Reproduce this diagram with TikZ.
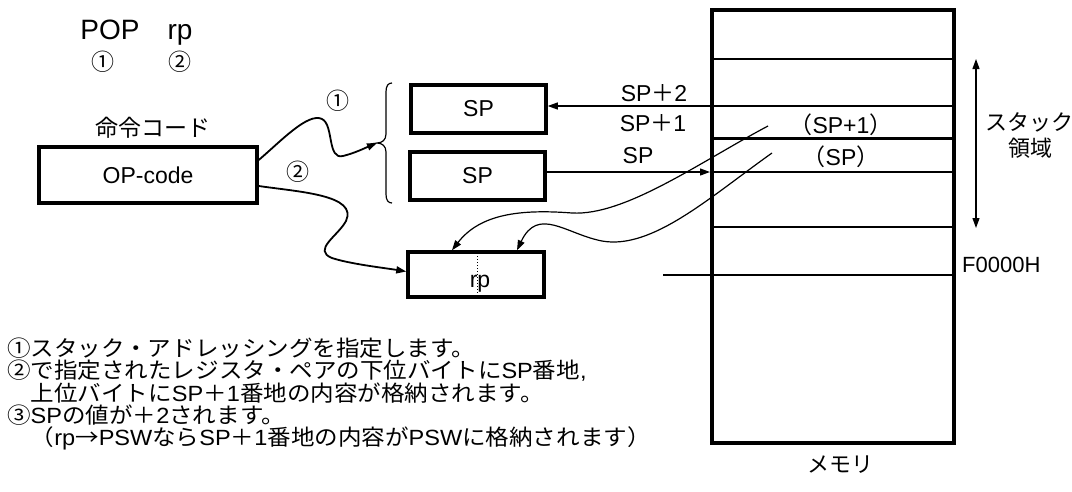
\documentclass[tikz,border=0pt]{standalone}
\usepackage{fontspec}
\setmainfont{Liberation Sans}
\newfontfamily\jp{Noto Sans CJK JP}
\newfontfamily\jpw[FakeStretch=1.07]{Noto Sans CJK JP}
\newfontfamily\lsw[FakeStretch=1.07]{Liberation Sans}
\usetikzlibrary{arrows.meta}
\tikzset{
  fs/.style={font=\fontsize{23}{27}\selectfont},
  fsm/.style={font=\fontsize{22}{26}\selectfont},
  boxn/.style={draw, line width=3.5pt, inner sep=0pt, fs},
  lbl/.style={inner sep=0pt, fs},
  lblm/.style={inner sep=0pt, fsm},
  tip/.style={-{Triangle[length=10pt,width=7pt]}},
  arr/.style={line width=1.2pt, tip},
  wav/.style={line width=1.8pt, tip},
  wavt/.style={line width=1.2pt, tip},
  mline/.style={line width=1.8pt},
  bline/.style={line width=3pt},
}
\begin{document}
\begin{tikzpicture}[x=1pt,y=-1pt]
\useasboundingbox (0,0) rectangle (1072,491);

% header
\node[inner sep=0pt, anchor=base, font=\fontsize{28}{32}\selectfont] (pop) at (110,39) {POP};
\node[inner sep=0pt, anchor=base, font=\fontsize{28}{32}\selectfont] (rpt) at (180,39) {rp};
\node[lbl] (h1) at (103,62) {\jp ①};
\node[lbl] (h2) at (180,62) {\jp ②};

% opcode
\node[lbl] (opl) at (153,128) {\jp 命令コード};
\node[boxn, minimum width=218pt, minimum height=56pt] (op) at (148,175) {OP-code};

% SP boxes
\node[boxn, minimum width=135pt, minimum height=48pt] (sp1) at (478.5,109) {SP};
\node[boxn, minimum width=135pt, minimum height=48pt] (sp2) at (477.5,176) {SP};

% rp box
\node[boxn, minimum width=136pt, minimum height=45pt] (rp) at (476,274.5) {};
\node[lbl, anchor=base] (rpl) at (480,287) {rp};
\draw[dotted, line width=1pt] (rp.north) ++(1pt,0) coordinate (dt) -- (dt |- rp.south);

% brace
\coordinate (bt) at (377,143);
\draw[line width=1.2pt] (392,83) .. controls (388,83) and (386,86) .. (386,92) -- (386,134)
  .. controls (386,140) and (382,143) .. (bt)
  .. controls (382,143) and (386,146) .. (386,152) -- (386,194)
  .. controls (386,200) and (388,203) .. (392,203);

% memory
\node[draw, line width=4pt, minimum width=242pt, minimum height=433pt, inner sep=0pt] (mem) at (833,226.5) {};
\coordinate (L1) at (0,59);
\coordinate (L2) at (0,106);
\coordinate (L3) at (0,138);
\coordinate (L4) at (0,172);
\coordinate (L5) at (0,227);
\coordinate (L6) at (0,275);
\draw[mline] (mem.west |- L1) -- (mem.east |- L1);
\draw[mline] (mem.west |- L2) -- (mem.east |- L2);
\draw[bline] (mem.west |- L3) -- (mem.east |- L3);
\draw[mline] (mem.west |- L4) -- (mem.east |- L4);
\draw[mline] (mem.west |- L5) -- (mem.east |- L5);
\coordinate (f0) at (663,275);
\draw[mline] (f0) -- (mem.east |- L6);

\node[lbl] (m1) at (841,125) {\jp （\rmfamily SP+1\jp ）};
\node[lbl] (m2) at (841,157) {\jp （\rmfamily SP\jp ）};
\node[lblm] (memlbl) at (840,465) {\jp メモリ};
\node[lblm, anchor=west] (f0l) at (962,265) {F0000H};

% stack area
\coordinate (sa1) at (976,59);
\coordinate (sa2) at (976,228);
\draw[line width=1.2pt, {Triangle[length=10pt,width=7pt]}-{Triangle[length=10pt,width=7pt]}] (sa1) -- (sa2);
\node[lblm] (st1) at (1029,122) {\jp スタック};
\node[lblm] (st2) at (1030,148) {\jp 領域};

% SP arrows and labels
\draw[arr] (mem.west |- L2) -- (sp1.east |- L2);
\draw[arr] (sp2.east |- L4) -- (mem.west |- L4);
\node[lbl, anchor=base] (spl2) at (654,101) {SP{\jp ＋}2};
\node[lbl, anchor=base] (spl1) at (653,131) {SP{\jp ＋}1};
\node[lbl, anchor=base] (spl0) at (638,163) {SP};

% wavy connector 1
\draw[wav] ([yshift=15pt]op.east) .. controls (280,142) and (308,112) .. (322,119)
  .. controls (334,125) and (327,160) .. (343,156)
  .. controls (355,153) and (365,148) .. (bt);
\node[lbl] (c1) at (338,101) {\jp ①};

% wavy connector 2
\draw[wav] ([yshift=-11pt]op.east) .. controls (300,192) and (358,195) .. (346,221)
  .. controls (338,236) and (312,250) .. (332,258)
  .. controls (350,264) and (385,268) .. ([yshift=3pt]rp.west);
\node[lbl] (c2) at (298,172) {\jp ②};

% wavy from memory to rp
\coordinate (sa) at (768,126);
\coordinate (sb) at (772,153);
\draw[wavt] (sa) .. controls (700,162) and (625,216) .. (572,213)
  .. controls (520,209) and (480,214) .. ([xshift=-24pt]rp.north);
\draw[wavt] (sb) .. controls (710,197) and (652,250) .. (602,241)
  .. controls (566,234) and (538,206) .. ([xshift=41pt]rp.north);

% bottom text
\node[lblm, anchor=base west] (t1) at (7,356) {\jpw ①スタック・アドレッシングを指定します。};
\node[lblm, anchor=base west] (t2) at (7,378) {\jpw ②で指定されたレジスタ・ペアの下位バイトに\lsw SP\jpw 番地\lsw ,};
\node[lblm, anchor=base west] (t3) at (7,401) {\jpw 　上位バイトに\lsw SP\jpw ＋\lsw 1\jpw 番地の内容が格納されます。};
\node[lblm, anchor=base west] (t4) at (7,423) {\jpw ③\lsw SP\jpw の値が＋\lsw 2\jpw されます。};
\node[lblm, anchor=base west] (t5) at (7,445) {\jpw 　（\lsw rp\jpw →\lsw PSW\jpw なら\lsw SP\jpw ＋\lsw 1\jpw 番地の内容が\lsw PSW\jpw に格納されます）};
\end{tikzpicture}
\end{document}
